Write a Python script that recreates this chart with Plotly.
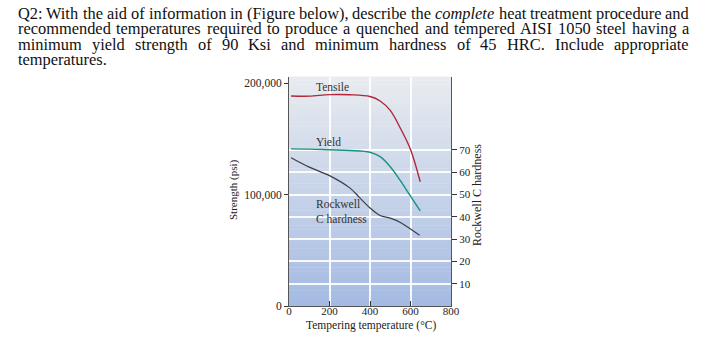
import plotly.graph_objects as go

# ---------------- data ----------------
tensile_temp = [10, 100, 200, 300, 400, 450, 500, 550, 600, 648]
tensile_psi = [188500, 188300, 189700, 189600, 188000, 184000, 175500, 159500, 140500, 111500]

yield_temp = [10, 100, 200, 300, 400, 450, 500, 550, 600, 648]
yield_psi = [141000, 140800, 140200, 139600, 138000, 134000, 125000, 112500, 98500, 85300]

hrc_temp = [10, 100, 200, 300, 350, 400, 450, 500, 550, 600, 645]
hrc_values = [66.5, 62.3, 58.5, 53.0, 48.5, 44.0, 40.6, 39.4, 37.5, 34.5, 31.8]

x_ticks = [0, 200, 400, 600, 800]
y_ticks = [0, 100000, 200000]
y_tick_text = ["0", "100,000", "200,000"]
hrc_ticks = [10, 20, 30, 40, 50, 60, 70]

question_lines = [
    "Q2: With the aid of information in (Figure below), describe the <i>complete</i> heat treatment procedure and",
    "recommended temperatures required to produce a quenched and tempered AISI 1050 steel having a",
    "minimum yield strength of 90 Ksi and minimum hardness of 45 HRC. Include appropriate",
    "temperatures.",
]

# ---------------- layout geometry ----------------
W, H = 709, 355
L, R, T, B = 289, 451, 77, 306
pw, ph = R - L, B - T

def px(x):
    return (x - L) / pw

def py(y):
    return (B - y) / ph

SERIF = "Liberation Serif, Times New Roman, serif"

# Times / Liberation Serif advance widths (1/1000 em) for justified text layout
_W = dict(zip("abcdefghijklmnopqrstuvwxyz",
              [444, 500, 444, 500, 444, 333, 500, 500, 278, 278, 500, 278, 778,
               500, 500, 500, 500, 333, 389, 278, 500, 500, 722, 500, 500, 444]))
_W.update(zip("ABCDEFGHIJKLMNOPQRSTUVWXYZ",
              [722, 667, 667, 722, 611, 556, 722, 722, 333, 389, 722, 611, 889,
               722, 722, 556, 722, 667, 556, 611, 722, 722, 944, 722, 722, 611]))
_W.update({d: 500 for d in "0123456789"})
_W.update({" ": 250, ".": 250, ",": 250, ":": 278, "(": 333, ")": 333})

def text_width(s, size):
    plain = s.replace("<i>", "").replace("</i>", "")
    return sum(_W.get(ch, 500) for ch in plain) * size / 1000.0

fig = go.Figure()

fig.add_trace(go.Scatter(x=tensile_temp, y=tensile_psi, mode="lines",
                         line=dict(color="#b3263b", width=1.4, shape="spline"),
                         showlegend=False, hoverinfo="skip"))
fig.add_trace(go.Scatter(x=yield_temp, y=yield_psi, mode="lines",
                         line=dict(color="#16937a", width=1.4, shape="spline"),
                         showlegend=False, hoverinfo="skip"))
fig.add_trace(go.Scatter(x=hrc_temp, y=hrc_values, mode="lines", yaxis="y2",
                         line=dict(color="#3d3d44", width=1.2, shape="spline"),
                         showlegend=False, hoverinfo="skip"))

# gradient background (top light grey -> bottom blue)
n = 60
top = (233, 236, 240)
bot = (164, 186, 226)
shapes = []
for i in range(n):
    f = (i + 0.5) / n
    c = tuple(int(round(bot[k] + (top[k] - bot[k]) * f)) for k in range(3))
    shapes.append(dict(type="rect", xref="x domain", yref="y domain",
                       x0=0, x1=1, y0=i / n, y1=(i + 1) / n + 0.002,
                       fillcolor="rgb(%d,%d,%d)" % c, line=dict(width=0),
                       layer="below"))

# question text, justified between x0 and x1 (last line left-aligned)
annotations = []
TSIZE = 16.4
qfont = dict(family=SERIF, size=TSIZE, color="#111")
x_left, x_right = 17, 688
line_y = [13, 29, 45, 60]
for li, (txt, yy) in enumerate(zip(question_lines, line_y)):
    last = li == len(question_lines) - 1
    words = [txt] if last else txt.split(" ")
    widths = [text_width(w, TSIZE) for w in words]
    gap = 0 if last else (x_right - x_left - sum(widths)) / (len(words) - 1)
    xc = x_left
    for w, wd in zip(words, widths):
        annotations.append(dict(text=w, xref="paper", yref="paper",
                                x=px(xc), y=py(yy), xanchor="left",
                                yanchor="middle", showarrow=False, font=qfont,
                                borderpad=0))
        xc += wd + gap

label_font = dict(family=SERIF, size=11.5, color="#333")
# curve labels
annotations += [
    dict(text="Tensile", x=123, y=196500, xref="x", yref="y", xanchor="left",
         yanchor="middle", showarrow=False, font=label_font),
    dict(text="Yield", x=123, y=147200, xref="x", yref="y", xanchor="left",
         yanchor="middle", showarrow=False, font=label_font),
    dict(text="Rockwell<br>C hardness", x=123, y=85000, xref="x", yref="y",
         xanchor="left", yanchor="middle", align="left", showarrow=False,
         font=label_font),
]
# axis titles
annotations += [
    dict(text="Strength (psi)", xref="paper", yref="paper", x=px(233), y=py(190),
         xanchor="center", yanchor="middle", textangle=-90, showarrow=False,
         font=dict(family=SERIF, size=11, color="#222")),
    dict(text="Rockwell C hardness", xref="paper", yref="paper", x=px(477), y=py(195),
         xanchor="center", yanchor="middle", textangle=-90, showarrow=False,
         font=dict(family=SERIF, size=12, color="#222")),
    dict(text="Tempering temperature (°C)", xref="paper", yref="paper", x=px(371),
         y=py(325), xanchor="center", yanchor="middle", showarrow=False,
         font=dict(family=SERIF, size=11.5, color="#222")),
]

fig.update_layout(
    template="none",
    width=W, height=H,
    margin=dict(l=L, r=W - R, t=T, b=H - B, pad=0),
    paper_bgcolor="white", plot_bgcolor="rgba(0,0,0,0)",
    shapes=shapes, annotations=annotations,
    xaxis=dict(range=[0, 800], tickvals=x_ticks, ticks="inside", ticklen=5,
               tickcolor="#333", tickwidth=1, showline=True, linecolor="#555",
               linewidth=1, showgrid=True, gridcolor="rgba(255,255,255,0.9)",
               gridwidth=1.5, zeroline=False, automargin=False,
               ticklabelstandoff=-5,
               tickfont=dict(family=SERIF, size=11, color="#222")),
    yaxis=dict(range=[0, 205500], tickvals=y_ticks, ticktext=y_tick_text,
               ticks="outside", ticklen=4, tickcolor="#333", showline=True,
               linecolor="#555", linewidth=1, showgrid=False, zeroline=False,
               automargin=False,
               tickfont=dict(family=SERIF, size=11.5, color="#222")),
    yaxis2=dict(range=[0, 102.75], overlaying="y", side="right",
                tickvals=hrc_ticks, ticks="outside", ticklen=5, tickcolor="#333",
                showline=True, linecolor="#555", linewidth=1, showgrid=True,
                gridcolor="rgba(255,255,255,0.9)", gridwidth=1.5, zeroline=False,
                automargin=False,
                tickfont=dict(family=SERIF, size=11, color="#222")),
)

fig.write_html("out.html", config={"displayModeBar": False},
               post_script="document.body.style.margin='0';")
